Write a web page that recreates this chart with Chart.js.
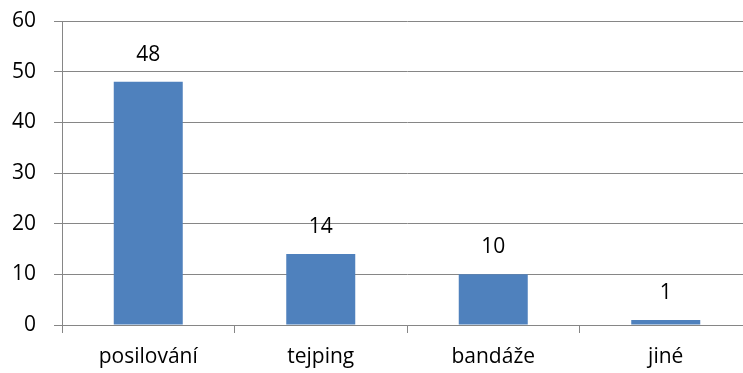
<!DOCTYPE html>
<html>
<head>
<meta charset="utf-8">
<script src="https://cdn.jsdelivr.net/npm/chart.js@4"></script>
<style>
  html, body { margin: 0; padding: 0; background: #fff; overflow: hidden; }
  #wrap { width: 752px; height: 373px; }
</style>
</head>
<body>
<div id="wrap"><canvas id="chart"></canvas></div>
<script>
const categories = ['posilování', 'tejping', 'bandáže', 'jiné'];
const counts = [48, 14, 10, 1];
const yTicks = [0, 10, 20, 30, 40, 50, 60];

const barColor = '#4F81BD';
const gridColor = '#868686';
const fontFamily = '"Open Sans", "Liberation Sans", sans-serif';
const fontSize = 21;

// value labels above each bar
const valueLabels = {
  id: 'valueLabels',
  afterDatasetsDraw(chart) {
    const ctx = chart.ctx;
    const meta = chart.getDatasetMeta(0);
    ctx.save();
    ctx.font = fontSize + 'px ' + fontFamily;
    ctx.fillStyle = '#000';
    ctx.textAlign = 'center';
    ctx.textBaseline = 'middle';
    meta.data.forEach((bar, i) => {
      ctx.fillText(String(counts[i]), bar.x, bar.y - 27);
    });
    ctx.restore();
  }
};

new Chart(document.getElementById('chart'), {
  type: 'bar',
  data: {
    labels: categories,
    datasets: [{
      data: counts,
      backgroundColor: barColor,
      borderWidth: 0,
      categoryPercentage: 0.40,
      barPercentage: 1.0
    }]
  },
  options: {
    responsive: true,
    maintainAspectRatio: false,
    animation: false,
    layout: { autoPadding: false, padding: { top: 21, right: 0, bottom: 0, left: 0 } },
    plugins: {
      legend: { display: false },
      tooltip: { enabled: false }
    },
    scales: {
      x: {
        afterFit(scale) { scale.height = 48; },
        grid: {
          display: true,
          drawOnChartArea: false,
          drawTicks: true,
          tickLength: 8,
          color: gridColor,
          offset: true
        },
        border: { display: true, color: gridColor, width: 1 },
        ticks: {
          color: '#000',
          font: { family: fontFamily, size: fontSize },
          padding: 11
        }
      },
      y: {
        min: 0,
        max: 60,
        afterFit(scale) { scale.width = 62; scale.paddingTop = 0; },
        afterBuildTicks(scale) { scale.ticks = yTicks.map(v => ({ value: v })); },
        grid: {
          color: gridColor,
          tickLength: 8,
          lineWidth: 1
        },
        border: { display: true, color: gridColor, width: 1 },
        ticks: {
          color: '#000',
          font: { family: fontFamily, size: fontSize },
          padding: 18
        }
      }
    }
  },
  plugins: [valueLabels]
});
</script>
</body>
</html>
